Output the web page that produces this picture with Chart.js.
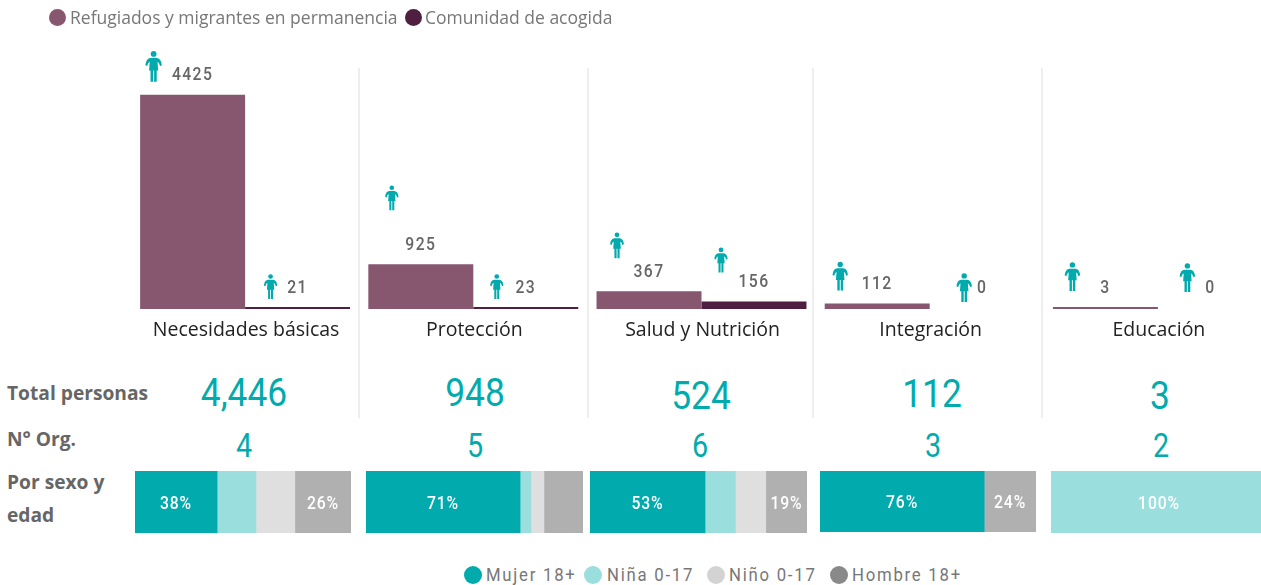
<!DOCTYPE html>
<html lang="es">
<head>
<meta charset="utf-8">
<title>Sectores</title>
<script src="https://cdn.jsdelivr.net/npm/chart.js@4/dist/chart.umd.min.js"></script>
<style>
    html, body { margin: 0; padding: 0; background: #fff; width: 1261px; height: 585px; overflow: hidden; }
    #page { position: relative; width: 1261px; height: 585px; overflow: hidden; }
    #page canvas { position: absolute; }
    .txt { position: absolute; white-space: nowrap; line-height: 1; }
    .dot { position: absolute; border-radius: 50%; }
    .legend { font-family: "Open Sans", sans-serif; font-size: 17.5px; color: #777; }
    .din { font-family: Roboto, sans-serif; }
    .legendB { font-size: 19px; color: #777; letter-spacing: 2px; transform-origin: left center; transform: scaleX(0.88); }
    .rowLabel { font-family: "Open Sans", sans-serif; font-weight: 700; font-size: 19.2px; color: #666; }
    .big { font-size: 38px; color: #01abad; transform: translateX(-50%) scaleX(0.93); }
    .mid { font-size: 33px; color: #01abad; transform: translateX(-50%) scaleX(0.87); }
    .divider { position: absolute; top: 68px; height: 350px; width: 2px; background: #eee; }
</style>
</head>
<body>
<div id="page">
    <canvas id="barsChart" width="1300" height="345" style="left:0;top:0;width:1300px;height:345px"></canvas>
</div>
<script>
// Top bars
const categories = ['Necesidades básicas', 'Protección', 'Salud y Nutrición', 'Integración', 'Educación'];
const refugiados = [4425, 925, 367, 112, 3];
const comunidad = [21, 23, 156, 0, 0];

// Rows under the bars
const totalPersonas = [4446, 948, 524, 112, 3];
const numOrg = [4, 5, 6, 3, 2];

// Sex and age split, one value per category, in percent
const mujer = [38, 71, 53, 76, 0];
const nina = [18, 5, 14, 0, 100];
const nino = [18, 6, 14, 0, 0];
const hombre = [26, 18, 19, 24, 0];

const barLegend = ['Refugiados y migrantes en permanencia', 'Comunidad de acogida'];
const sexLegend = ['Mujer 18+', 'Niña 0-17', 'Niño 0-17', 'Hombre 18+'];

const colors = {
    refugiados: '#87566f',
    comunidad: '#4e1f40',
    mujer: '#01abad',
    nina: '#9bdede',
    nino: '#dfdfdf',
    hombre: '#b0b0b0',
    ninoDot: '#d3d3d3',
    hombreDot: '#898989'
};

// Layout of the page, kept apart from the data
const dividerX = [358, 587, 812, 1041];
const totalX = [243.5, 475, 701, 932, 1160];
const totalY = [374, 374, 377, 375, 377];
const orgX = [244, 475, 700, 933, 1161];
const splitLeft = [135, 366, 590, 820, 1051];
const splitWidth = [216, 217, 217, 216, 216];

// Person icon per bar: offset from bar centre, offset from bar top, height
const iconsA = [[-39, -44, 31], [-29, -79, 25], [-32, -59, 26], [-37, -42, 29], [-33, -45, 29]];
const iconsB = [[-27, -33, 25], [-29, -33, 25], [-33, -54, 25], [-18, -34, 29], [-23, -44, 29]];

function drawPerson(ctx, cx, top, h) {
    const s = h / 30;
    ctx.save();
    ctx.translate(cx - 9 * s, top);
    ctx.scale(s, s);
    ctx.fillStyle = colors.mujer;
    ctx.beginPath();
    ctx.arc(9, 3, 2.8, 0, Math.PI * 2);
    ctx.fill();
    ctx.beginPath();
    ctx.moveTo(6, 7);
    ctx.lineTo(12, 7);
    ctx.quadraticCurveTo(16.3, 7.3, 17, 14);
    ctx.lineTo(15.2, 14.6);
    ctx.quadraticCurveTo(14.6, 11.5, 12.8, 10.6);
    ctx.lineTo(13.4, 19);
    ctx.lineTo(12, 19);
    ctx.lineTo(12, 30);
    ctx.lineTo(9.5, 30);
    ctx.lineTo(9.5, 19);
    ctx.lineTo(8.5, 19);
    ctx.lineTo(8.5, 30);
    ctx.lineTo(6, 30);
    ctx.lineTo(6, 19);
    ctx.lineTo(4.6, 19);
    ctx.lineTo(5.2, 10.6);
    ctx.quadraticCurveTo(3.4, 11.5, 2.8, 14.6);
    ctx.lineTo(1, 14);
    ctx.quadraticCurveTo(1.7, 7.3, 6, 7);
    ctx.closePath();
    ctx.fill();
    ctx.restore();
}

// Narrow text on the canvas, the installed fonts have no DIN cut
function narrowText(ctx, text, x, y, color, spacing) {
    ctx.save();
    ctx.translate(x, y);
    ctx.scale(0.85, 1);
    ctx.font = '500 18.5px Roboto, sans-serif';
    ctx.letterSpacing = spacing;
    ctx.fillStyle = color;
    ctx.textAlign = 'center';
    ctx.textBaseline = 'middle';
    ctx.fillText(text, 0, 0);
    ctx.restore();
}

// Value label above each bar, with the person icon beside it
const barLabels = {
    id: 'barLabels',
    afterDatasetsDraw(chart) {
        const ctx = chart.ctx;
        chart.data.datasets.forEach(function(ds, d) {
            const icons = d === 0 ? iconsA : iconsB;
            chart.getDatasetMeta(d).data.forEach(function(bar, i) {
                const barTop = Math.min(bar.y, bar.base);
                drawPerson(ctx, bar.x + icons[i][0], barTop + icons[i][1], icons[i][2]);
                narrowText(ctx, String(ds.data[i]), bar.x, barTop - 19, '#666', '1.6px');
            });
        });
    }
};

// Percent inside the wide segments only
const splitLabels = {
    id: 'splitLabels',
    afterDatasetsDraw(chart) {
        const ctx = chart.ctx;
        chart.data.datasets.forEach(function(ds, d) {
            const value = ds.data[0];
            if (value < 19) return;
            const seg = chart.getDatasetMeta(d).data[0];
            narrowText(ctx, value + '%', (seg.x + seg.base) / 2, seg.y + 2, '#fff', '1px');
        });
    }
};

// Zero values leave no trace, not even a hairline
function ifValue(color) {
    return function(c) {
        return c.raw > 0 ? color : 'transparent';
    };
}

const page = document.getElementById('page');

function addText(cls, text, x, y) {
    const el = document.createElement('div');
    el.className = 'txt ' + cls;
    el.textContent = text;
    el.style.left = x + 'px';
    el.style.top = y + 'px';
    page.appendChild(el);
}

function addDot(color, x, y, size) {
    const el = document.createElement('div');
    el.className = 'dot';
    el.style.background = color;
    el.style.left = x + 'px';
    el.style.top = y + 'px';
    el.style.width = size + 'px';
    el.style.height = size + 'px';
    page.appendChild(el);
}

// Top legend
addDot(colors.refugiados, 49, 9, 17);
addText('legend', barLegend[0], 70, 9);
addDot(colors.comunidad, 405, 9, 17);
addText('legend', barLegend[1], 425, 9);

// Bottom legend
const sexDotX = [464, 584, 707, 830];
const sexTextX = [486, 607, 729, 852];
const sexDotColor = [colors.mujer, colors.nina, colors.ninoDot, colors.hombreDot];
sexLegend.forEach(function(name, i) {
    addDot(sexDotColor[i], sexDotX[i], 566, 18);
    addText('din legendB', name, sexTextX[i], 565);
});

// Row labels
addText('rowLabel', 'Total personas', 7, 383);
addText('rowLabel', 'N° Org.', 7, 429);
addText('rowLabel', 'Por sexo y', 7, 472);
addText('rowLabel', 'edad', 7, 505);

dividerX.forEach(function(x) {
    const el = document.createElement('div');
    el.className = 'divider';
    el.style.left = x + 'px';
    page.appendChild(el);
});

totalPersonas.forEach(function(v, i) {
    addText('din big', v.toLocaleString('en-US'), totalX[i], totalY[i]);
    addText('din mid', String(numOrg[i]), orgX[i], 429);
});

Chart.defaults.animation = false;

new Chart(document.getElementById('barsChart').getContext('2d'), {
    type: 'bar',
    data: {
        labels: categories,
        datasets: [
            { label: barLegend[0], data: refugiados, backgroundColor: colors.refugiados },
            { label: barLegend[1], data: comunidad, backgroundColor: ifValue(colors.comunidad) }
        ]
    },
    options: {
        responsive: false,
        categoryPercentage: 0.92,
        barPercentage: 1,
        minBarLength: 2,
        layout: { padding: { left: 131, right: 28, top: 67, bottom: 0 } },
        plugins: { legend: { display: false }, tooltip: { enabled: false } },
        scales: {
            x: {
                grid: { display: false },
                border: { display: false },
                afterFit: function(scale) { scale.height = 36; },
                ticks: {
                    color: '#222',
                    font: { family: '"Open Sans", sans-serif', size: 19.5 },
                    padding: 2,
                    labelOffset: 1,
                    maxRotation: 0
                }
            },
            y: { display: false, min: 0, max: 5000 }
        }
    },
    plugins: [barLabels]
});

// One stacked 100% bar per category
categories.forEach(function(name, i) {
    const canvas = document.createElement('canvas');
    const w = splitWidth[i];
    const h = i === 3 ? 61 : 62;
    canvas.width = w;
    canvas.height = h;
    canvas.style.cssText = 'left:' + splitLeft[i] + 'px;top:471px;width:' + w + 'px;height:' + h + 'px';
    page.appendChild(canvas);
    new Chart(canvas.getContext('2d'), {
        type: 'bar',
        data: {
            labels: [name],
            datasets: [
                { label: sexLegend[0], data: [mujer[i]], backgroundColor: ifValue(colors.mujer) },
                { label: sexLegend[1], data: [nina[i]], backgroundColor: ifValue(colors.nina) },
                { label: sexLegend[2], data: [nino[i]], backgroundColor: ifValue(colors.nino) },
                { label: sexLegend[3], data: [hombre[i]], backgroundColor: ifValue(colors.hombre) }
            ]
        },
        options: {
            indexAxis: 'y',
            responsive: false,
            categoryPercentage: 1,
            barPercentage: 1,
            layout: { padding: 0 },
            plugins: { legend: { display: false }, tooltip: { enabled: false } },
            scales: {
                x: { display: false, stacked: true, min: 0, max: 100 },
                y: { display: false, stacked: true }
            }
        },
        plugins: [splitLabels]
    });
});
</script>
</body>
</html>
